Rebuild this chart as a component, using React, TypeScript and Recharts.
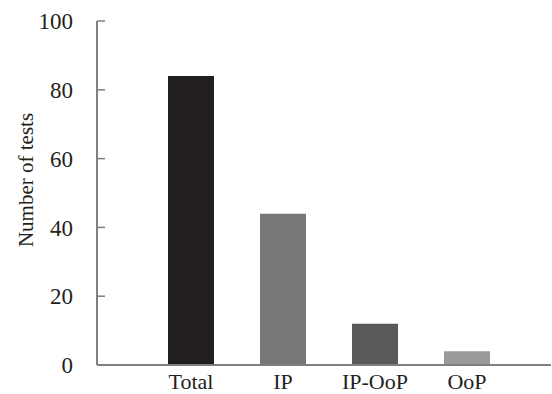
import { Bar, BarChart, Cell, Label, XAxis, YAxis } from "recharts";

const categories = ["Total", "IP", "IP-OoP", "OoP"];
const tests = [84, 44, 12, 4];
const barColors = ["#231f20", "#77777a", "#59595b", "#9a9a9c"];
const yTicks = [0, 20, 40, 60, 80, 100];

const data = categories.map((c, i) => ({ name: c, value: tests[i] }));

const AXIS = "#808082";
const FONT = "'Liberation Serif', 'Times New Roman', serif";

export default function App() {
  return (
    <div style={{ position: "absolute", left: 0, top: 0, background: "#fff" }}>
      <BarChart
        width={552}
        height={394}
        data={data}
        margin={{ top: 21, right: 1, left: 0, bottom: 0 }}
        barSize={46}
      >
        <XAxis
          dataKey="name"
          height={29}
          padding={{ left: 48, right: 38 }}
          tickLine={false}
          tickSize={6}
          tickMargin={2}
          axisLine={{ stroke: AXIS, strokeWidth: 2 }}
          tick={{ fontSize: 22, fill: "#231f20", fontFamily: FONT }}
          interval={0}
        />
        <YAxis
          width={97}
          domain={[0, 100]}
          ticks={yTicks}
          tickSize={-8}
          tickMargin={32}
          tickLine={{ stroke: AXIS, strokeWidth: 1.5 }}
          axisLine={{ stroke: AXIS, strokeWidth: 2 }}
          tick={{ fontSize: 23, fill: "#231f20", fontFamily: FONT }}
        >
          <Label
            content={({ viewBox }: any) => {
              const x = viewBox.x + 33;
              const y = viewBox.y + viewBox.height / 2 - 13;
              return (
                <text
                  x={x}
                  y={y}
                  transform={`rotate(-90, ${x}, ${y})`}
                  textAnchor="middle"
                  fontSize={21}
                  fontFamily={FONT}
                  fill="#231f20"
                >
                  Number of tests
                </text>
              );
            }}
          />
        </YAxis>
        <Bar dataKey="value" isAnimationActive={false}>
          {data.map((d, i) => (
            <Cell key={d.name} fill={barColors[i]} />
          ))}
        </Bar>
      </BarChart>
    </div>
  );
}
